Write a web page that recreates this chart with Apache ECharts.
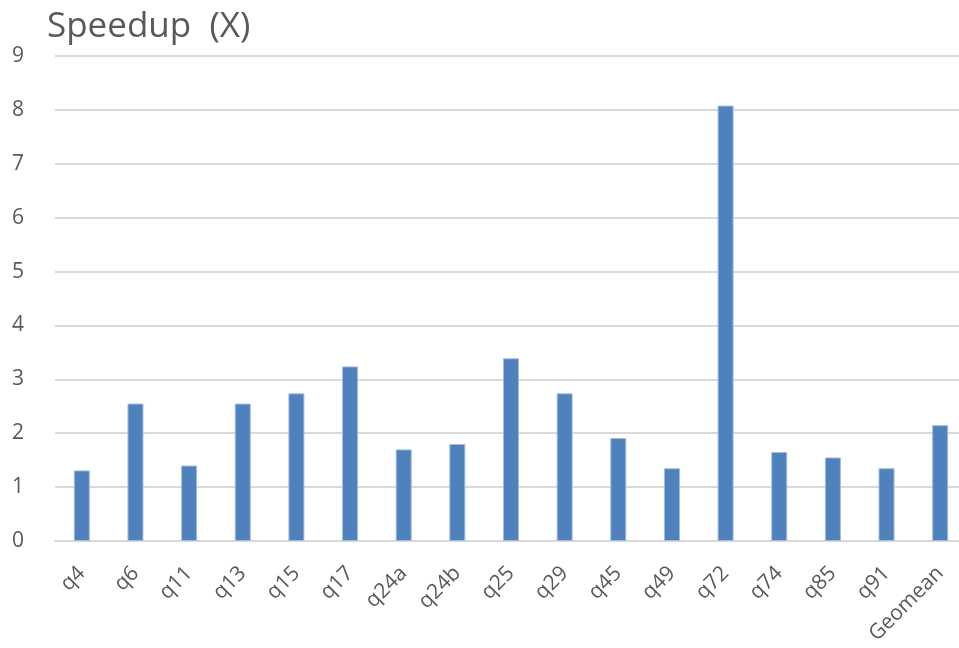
<!DOCTYPE html>
<html>
<head>
<meta charset="utf-8">
<script src="https://cdn.jsdelivr.net/npm/echarts@6/dist/echarts.min.js"></script>
<style>
  html, body { margin: 0; padding: 0; background: #ffffff; overflow: hidden; }
  /* canvas is a little wider than the page so the last column sits partly past the edge */
  #chart { width: 967px; height: 648px; }
</style>
</head>
<body>
<div id="chart"></div>
<script>
// Query names on the x axis
const queries = ['q4', 'q6', 'q11', 'q13', 'q15', 'q17', 'q24a', 'q24b', 'q25',
                 'q29', 'q45', 'q49', 'q72', 'q74', 'q85', 'q91', 'Geomean'];
// Speedup per query (X)
const speedup = [1.31, 2.55, 1.40, 2.55, 2.74, 3.24, 1.70, 1.80, 3.39,
                 2.74, 1.91, 1.35, 8.08, 1.65, 1.55, 1.35, 2.15];
// Value axis range
const yMin = 0;
const yMax = 9;
const yStep = 1;

const textColor = '#595959';
const gridColor = '#D9D9D9';
const fontFamily = '"Open Sans", "Noto Sans", sans-serif';

const chart = echarts.init(document.getElementById('chart'), null, { renderer: 'canvas' });
chart.setOption({
  animation: false,
  title: {
    text: 'Speedup  (X)',
    left: 42,
    top: 5,
    textStyle: { fontFamily, fontSize: 35, fontWeight: 'normal', color: textColor }
  },
  grid: { left: 55, right: 0, top: 56, bottom: 107, containLabel: false },
  xAxis: {
    type: 'category',
    data: queries,
    axisLine: { show: true, lineStyle: { color: gridColor, width: 2 } },
    axisTick: { show: false },
    axisLabel: {
      rotate: 45,
      margin: 29,
      interval: 0,
      fontFamily,
      fontSize: 21,
      color: textColor
    }
  },
  yAxis: {
    type: 'value',
    min: yMin,
    max: yMax,
    interval: yStep,
    axisLine: { show: false },
    axisTick: { show: false },
    splitLine: { lineStyle: { color: gridColor, width: 2 } },
    axisLabel: { margin: 31, fontFamily, fontSize: 21, color: textColor }
  },
  series: [{
    type: 'bar',
    data: speedup,
    barWidth: 16,
    itemStyle: { color: '#4F81BD', borderColor: '#A3BCDD', borderWidth: 1 }
  }]
});
</script>
</body>
</html>
